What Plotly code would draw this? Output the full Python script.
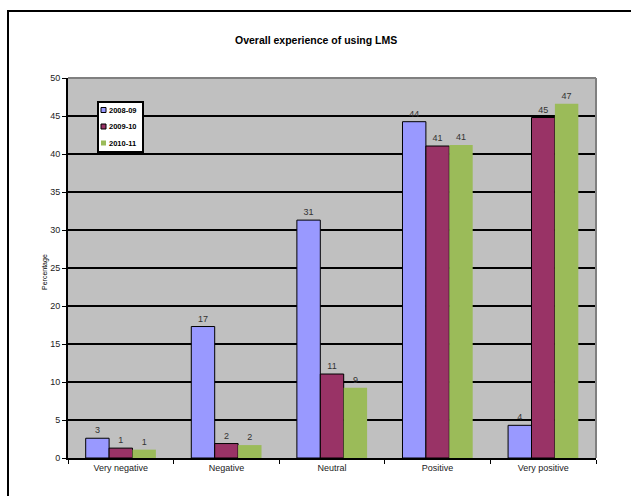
import plotly.graph_objects as go

categories = ["Very negative", "Negative", "Neutral", "Positive", "Very positive"]
series_names = ["2008-09", "2009-10", "2010-11"]
values_2008 = [2.6, 17.3, 31.3, 44.25, 4.3]
values_2009 = [1.3, 1.9, 11.05, 41.05, 44.8]
values_2010 = [1.1, 1.7, 9.25, 41.2, 46.6]
y_ticks = [0, 5, 10, 15, 20, 25, 30, 35, 40, 45, 50]

colors = ["#9999FF", "#993366", "#9BBB59"]
outline = [1, 1, 0]
font_family = "Arial, Liberation Sans, sans-serif"

W, H = 631, 496
L, R, T, B = 68, 35, 78, 38
pw, ph = W - L - R, H - T - B


def px_x(x):
    return (x - L) / pw


def px_y(y):
    return (H - B - y) / ph


fig = go.Figure()
for name, vals, col, lw in zip(series_names, [values_2008, values_2009, values_2010], colors, outline):
    fig.add_trace(go.Bar(
        x=categories, y=vals, name=name,
        marker=dict(color=col, line=dict(color="black", width=lw)),
        texttemplate="%{y:.0f}", textposition="outside",
        textfont=dict(size=9, color="#333333", family=font_family),
        cliponaxis=False, showlegend=False,
    ))

shapes = []
# plot frame: grey top and right edges
shapes.append(dict(type="line", xref="paper", yref="paper", x0=0, x1=1, y0=1, y1=1,
                   line=dict(color="#808080", width=2), layer="above"))
shapes.append(dict(type="line", xref="paper", yref="paper", x0=1, x1=1, y0=0, y1=1,
                   line=dict(color="#808080", width=2), layer="above"))
# outer chart border
shapes.append(dict(type="rect", xref="paper", yref="paper",
                   x0=px_x(8), x1=px_x(650), y0=px_y(11), y1=px_y(510),
                   line=dict(color="black", width=2), fillcolor="rgba(0,0,0,0)", layer="above"))

# legend box
lx0, lx1, ly0, ly1 = 98, 143, 102, 152
shapes.append(dict(type="rect", xref="paper", yref="paper",
                   x0=px_x(lx0), x1=px_x(lx1), y0=px_y(ly0), y1=px_y(ly1),
                   line=dict(color="black", width=2), fillcolor="white", layer="above"))
annotations = []
for i, (name, col, lw) in enumerate(zip(series_names, colors, outline)):
    cy = 110 + i * 16.5
    shapes.append(dict(type="rect", xref="paper", yref="paper",
                       x0=px_x(101), x1=px_x(106), y0=px_y(cy - 2.5), y1=px_y(cy + 2.5),
                       line=dict(color="black", width=lw) if lw else dict(width=0),
                       fillcolor=col, layer="above"))
    annotations.append(dict(text="<b>" + name + "</b>", xref="paper", yref="paper",
                            x=px_x(107), y=px_y(cy), xanchor="left", yanchor="middle",
                            showarrow=False, font=dict(size=7.5, color="black", family=font_family)))

annotations.append(dict(text="<b>Overall experience of using LMS</b>", xref="paper", yref="paper",
                        x=px_x(316), y=px_y(40), xanchor="center", yanchor="middle",
                        showarrow=False, font=dict(size=10.5, color="black", family=font_family)))
annotations.append(dict(text="Percentage", xref="paper", yref="paper",
                        x=px_x(45), y=px_y(272), xanchor="center", yanchor="middle", textangle=-90,
                        showarrow=False, font=dict(size=7, color="black", family=font_family)))

fig.update_layout(
    width=W, height=H,
    margin=dict(l=L, r=R, t=T, b=B, pad=0),
    paper_bgcolor="white", plot_bgcolor="#C0C0C0",
    barmode="group", bargap=0.335, bargroupgap=0,
    font=dict(family=font_family, size=9, color="#222222"),
    shapes=shapes, annotations=annotations,
    showlegend=False,
)
fig.update_yaxes(range=[0, 50], tickvals=y_ticks, showgrid=True, gridcolor="black", gridwidth=2,
                 showline=True, linecolor="black", linewidth=2, ticks="outside", ticklen=4,
                 tickcolor="black", tickwidth=1, tickfont=dict(size=9, color="#222222"),
                 zeroline=False, fixedrange=True)
fig.update_xaxes(showline=True, linecolor="black", linewidth=2, ticks="outside", ticklen=4,
                 tickcolor="black", tickwidth=1, tickson="boundaries",
                 tickfont=dict(size=9, color="#222222"), fixedrange=True)

fig.write_html("out.html")
